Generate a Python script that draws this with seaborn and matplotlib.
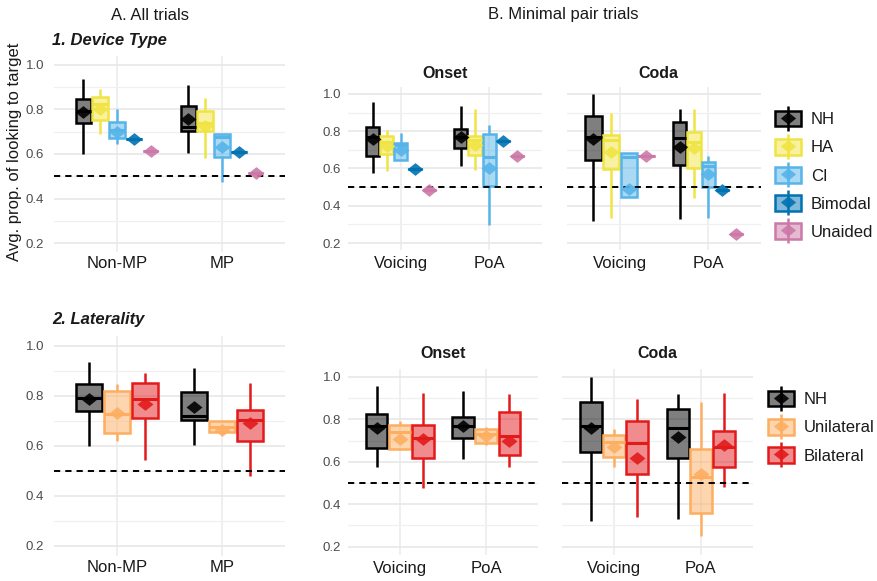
import numpy as np
import pandas as pd
import matplotlib
matplotlib.use("Agg")
import matplotlib.pyplot as plt
import seaborn as sns
from matplotlib.colors import to_rgba
from matplotlib.patches import Patch
from matplotlib.lines import Line2D
from matplotlib.path import Path
from matplotlib.ticker import MultipleLocator, FormatStrFormatter

# ---------------------------------------------------------------------------
# Groups and colours
device_groups = ["NH", "HA", "CI", "Bimodal", "Unaided"]
device_colors = ["#000000", "#F0E442", "#56B4E9", "#0072B2", "#CC79A7"]
laterality_groups = ["NH", "Unilateral", "Bilateral"]
laterality_colors = ["#000000", "#FDAE61", "#E31A1C"]

all_trials_x = ["Non-MP", "MP"]
pair_x = ["Voicing", "PoA"]

# Summary rows: (group, min, q1, median, q3, max, mean)
# Normal-hearing reference group (shared by both rows of panels)
nh_nonmp = ("NH", 0.600, 0.740, 0.793, 0.848, 0.938, 0.789)
nh_mp = ("NH", 0.603, 0.703, 0.722, 0.815, 0.912, 0.757)
nh_onset_voicing = ("NH", 0.575, 0.665, 0.768, 0.825, 0.958, 0.758)
nh_onset_poa = ("NH", 0.614, 0.712, 0.771, 0.812, 0.933, 0.770)
nh_coda_voicing = ("NH", 0.319, 0.648, 0.769, 0.880, 1.000, 0.758)
nh_coda_poa = ("NH", 0.330, 0.618, 0.761, 0.847, 0.920, 0.718)

# 1. Device type -- all trials
device_all_nonmp = [
    nh_nonmp,
    ("HA", 0.690, 0.753, 0.825, 0.855, 0.892, 0.800),
    ("CI", 0.645, 0.672, 0.710, 0.744, 0.800, 0.700),
    ("Bimodal", 0.667, 0.667, 0.667, 0.667, 0.667, 0.667),
    ("Unaided", 0.613, 0.613, 0.613, 0.613, 0.613, 0.613),
]
device_all_mp = [
    nh_mp,
    ("HA", 0.580, 0.705, 0.740, 0.795, 0.850, 0.725),
    ("CI", 0.475, 0.587, 0.675, 0.690, 0.690, 0.630),
    ("Bimodal", 0.608, 0.608, 0.608, 0.608, 0.608, 0.608),
    ("Unaided", 0.513, 0.513, 0.513, 0.513, 0.513, 0.513),
]

# 1. Device type -- minimal pairs, onset
device_onset_voicing = [
    nh_onset_voicing,
    ("HA", 0.584, 0.680, 0.740, 0.775, 0.807, 0.720),
    ("CI", 0.646, 0.646, 0.727, 0.739, 0.790, 0.700),
    ("Bimodal", 0.598, 0.598, 0.598, 0.598, 0.598, 0.598),
    ("Unaided", 0.486, 0.486, 0.486, 0.486, 0.486, 0.486),
]
device_onset_poa = [
    nh_onset_poa,
    ("HA", 0.593, 0.673, 0.753, 0.775, 0.918, 0.727),
    ("CI", 0.298, 0.504, 0.664, 0.786, 0.834, 0.600),
    ("Bimodal", 0.745, 0.745, 0.745, 0.745, 0.745, 0.745),
    ("Unaided", 0.668, 0.668, 0.668, 0.668, 0.668, 0.668),
]

# 1. Device type -- minimal pairs, coda
device_coda_voicing = [
    nh_coda_voicing,
    ("HA", 0.337, 0.595, 0.753, 0.778, 0.900, 0.690),
    ("CI", 0.448, 0.448, 0.660, 0.685, 0.685, 0.490),
    ("Unaided", 0.668, 0.668, 0.668, 0.668, 0.668, 0.668),
]
device_coda_poa = [
    nh_coda_poa,
    ("HA", 0.440, 0.600, 0.744, 0.796, 0.920, 0.708),
    ("CI", 0.337, 0.502, 0.613, 0.636, 0.667, 0.573),
    ("Bimodal", 0.482, 0.482, 0.482, 0.482, 0.482, 0.482),
    ("Unaided", 0.247, 0.247, 0.247, 0.247, 0.247, 0.247),
]

# 2. Laterality -- all trials
laterality_all_nonmp = [
    nh_nonmp,
    ("Unilateral", 0.619, 0.653, 0.727, 0.819, 0.849, 0.733),
    ("Bilateral", 0.545, 0.713, 0.789, 0.853, 0.893, 0.767),
]
laterality_all_mp = [
    nh_mp,
    ("Unilateral", 0.650, 0.656, 0.676, 0.700, 0.700, 0.665),
    ("Bilateral", 0.480, 0.620, 0.705, 0.743, 0.852, 0.692),
]

# 2. Laterality -- minimal pairs, onset
laterality_onset_voicing = [
    nh_onset_voicing,
    ("Unilateral", 0.654, 0.661, 0.740, 0.772, 0.792, 0.709),
    ("Bilateral", 0.477, 0.617, 0.713, 0.772, 0.924, 0.709),
]
laterality_onset_poa = [
    nh_onset_poa,
    ("Unilateral", 0.677, 0.688, 0.732, 0.756, 0.764, 0.720),
    ("Bilateral", 0.575, 0.630, 0.720, 0.835, 0.918, 0.700),
]

# 2. Laterality -- minimal pairs, coda
laterality_coda_voicing = [
    nh_coda_voicing,
    ("Unilateral", 0.574, 0.621, 0.692, 0.724, 0.755, 0.669),
    ("Bilateral", 0.338, 0.543, 0.688, 0.792, 0.897, 0.617),
]
laterality_coda_poa = [
    nh_coda_poa,
    ("Unilateral", 0.251, 0.357, 0.527, 0.658, 0.882, 0.543),
    ("Bilateral", 0.483, 0.577, 0.669, 0.744, 0.924, 0.680),
]

chance = 0.5

# ---------------------------------------------------------------------------
sns.set_theme(style="white")
plt.rcParams["font.family"] = ["Liberation Sans", "DejaVu Sans"]

W, H = 877, 581
fig = plt.figure(figsize=(W / 100, H / 100), dpi=100)

DIAMOND = Path([(-1, 0), (0, 0.8), (1, 0), (0, -0.8), (-1, 0)],
               [Path.MOVETO, Path.LINETO, Path.LINETO, Path.LINETO, Path.CLOSEPOLY])


def px_axes(left, top, right, bottom):
    return fig.add_axes([left / W, 1 - bottom / H, (right - left) / W, (bottom - top) / H])


def fig_text(x, y, s, **kw):
    fig.text(x / W, 1 - y / H, s, **kw)


def draw_panel(ax, x_order, per_x, groups, colors, show_y, ypad, xpad):
    pal = dict(zip(groups, colors))
    for xcat, rows in zip(x_order, per_x):
        present = [r[0] for r in rows]
        box_df = pd.DataFrame(
            [(xcat, r[0], v) for r in rows for v in r[1:6]],
            columns=["cond", "group", "value"])
        mean_df = pd.DataFrame(
            [(xcat, r[0], r[6]) for r in rows],
            columns=["cond", "group", "value"])
        n0 = len(ax.containers)
        sns.boxplot(data=box_df, x="cond", y="value", hue="group",
                    order=x_order, hue_order=present, palette=pal,
                    whis=(0, 100), width=0.8, gap=0.07, showcaps=False,
                    saturation=1, linewidth=1.8, legend=False, ax=ax)
        for cont, g in zip(ax.containers[n0:], present):
            c = pal[g]
            for b in cont.boxes:
                b.set_facecolor(to_rgba(c, 0.5))
                b.set_edgecolor(c)
                b.set_linewidth(1.8)
            for ln in list(cont.whiskers):
                ln.set_color(c)
                ln.set_linewidth(1.8)
            for ln in list(cont.medians):
                ln.set_color(c)
                ln.set_linewidth(2.2)
        sns.stripplot(data=mean_df, x="cond", y="value", hue="group",
                      order=x_order, hue_order=present, palette=pal,
                      dodge=True, jitter=False, marker=DIAMOND, size=11.5,
                      linewidth=0, alpha=0.9, legend=False, ax=ax, zorder=6)

    ax.axhline(chance, color="black", linestyle=(0, (3.2, 2.6)), linewidth=1.4, zorder=5)
    ax.set_xlim(-0.6, 1.6)
    ax.set_ylim(0.16, 1.04)
    ax.yaxis.set_major_locator(MultipleLocator(0.2))
    ax.yaxis.set_minor_locator(MultipleLocator(0.1))
    ax.yaxis.set_major_formatter(FormatStrFormatter("%.1f"))
    ax.set_axisbelow(True)
    ax.grid(True, axis="y", which="major", color="#E6E6E6", linewidth=1.1)
    ax.grid(True, axis="y", which="minor", color="#F0F0F0", linewidth=0.9)
    ax.grid(True, axis="x", which="major", color="#EBEBEB", linewidth=1.1)
    for sp in ax.spines.values():
        sp.set_visible(False)
    ax.set_xlabel("")
    ax.set_ylabel("")
    ax.tick_params(axis="both", which="both", length=0)
    ax.tick_params(axis="x", labelsize=12, labelcolor="#1A1A1A", pad=xpad)
    ax.tick_params(axis="y", labelsize=9.5, labelcolor="#4D4D4D", pad=ypad)
    if not show_y:
        ax.tick_params(axis="y", labelleft=False)


# Row 1: device type
ax1 = px_axes(54, 56, 285, 252)
draw_panel(ax1, all_trials_x, [device_all_nonmp, device_all_mp],
           device_groups, device_colors, True, 7, 3)
ax2 = px_axes(348, 86.5, 542, 250.5)
draw_panel(ax2, pair_x, [device_onset_voicing, device_onset_poa],
           device_groups, device_colors, True, 5, 4)
ax3 = px_axes(567, 86.5, 761, 250.5)
draw_panel(ax3, pair_x, [device_coda_voicing, device_coda_poa],
           device_groups, device_colors, False, 5, 4)

# Row 2: laterality
ax4 = px_axes(54, 336, 285, 556)
draw_panel(ax4, all_trials_x, [laterality_all_nonmp, laterality_all_mp],
           laterality_groups, laterality_colors, True, 7, 3)
ax5 = px_axes(348, 368.5, 538, 555)
draw_panel(ax5, pair_x, [laterality_onset_voicing, laterality_onset_poa],
           laterality_groups, laterality_colors, True, 5, 4)
ax6 = px_axes(562, 368.5, 753, 555)
draw_panel(ax6, pair_x, [laterality_coda_voicing, laterality_coda_poa],
           laterality_groups, laterality_colors, False, 5, 4)

# Titles and labels
fig_text(150, 15, "A. All trials", ha="center", va="center", fontsize=12, color="#1A1A1A")
fig_text(563, 15, "B. Minimal pair trials", ha="center", va="center", fontsize=12, color="#1A1A1A")
fig_text(52, 40, "1. Device Type", ha="left", va="center", fontsize=12,
         fontweight="bold", fontstyle="italic", color="#1A1A1A")
fig_text(52, 320, "2. Laterality", ha="left", va="center", fontsize=12,
         fontweight="bold", fontstyle="italic", color="#1A1A1A")
fig_text(445, 73, "Onset", ha="center", va="center", fontsize=11.5, fontweight="bold", color="#1A1A1A")
fig_text(658, 73, "Coda", ha="center", va="center", fontsize=11.5, fontweight="bold", color="#1A1A1A")
fig_text(443, 354, "Onset", ha="center", va="center", fontsize=11.5, fontweight="bold", color="#1A1A1A")
fig_text(657, 354, "Coda", ha="center", va="center", fontsize=11.5, fontweight="bold", color="#1A1A1A")
fig_text(15, 152, "Avg. prop. of looking to target", ha="center", va="center",
         rotation=90, fontsize=12, color="#1A1A1A")


def legend_handles(groups, colors):
    handles = []
    for g, c in zip(groups, colors):
        box = Patch(facecolor=to_rgba(c, 0.5), edgecolor=c, linewidth=1.8)
        whisk = Line2D([], [], marker="|", markersize=18, markeredgewidth=1.8,
                       color=c, linestyle="none")
        dia = Line2D([], [], marker=DIAMOND, markersize=11, color=c,
                     alpha=0.9, markeredgewidth=0, linestyle="none")
        handles.append((whisk, box, dia))
    return handles


legend_kw = dict(loc="upper left", frameon=False, fontsize=12,
                 handlelength=1.55, handleheight=1.05, labelspacing=0.7,
                 handletextpad=0.6, borderpad=0, borderaxespad=0,
                 labelcolor="#1A1A1A")
fig.legend(legend_handles(device_groups, device_colors), device_groups,
           bbox_to_anchor=(775 / W, 1 - 111 / H), **legend_kw)
fig.legend(legend_handles(laterality_groups, laterality_colors), laterality_groups,
           bbox_to_anchor=(768 / W, 1 - 391 / H), **legend_kw)

fig.savefig("out.png", dpi=100)
